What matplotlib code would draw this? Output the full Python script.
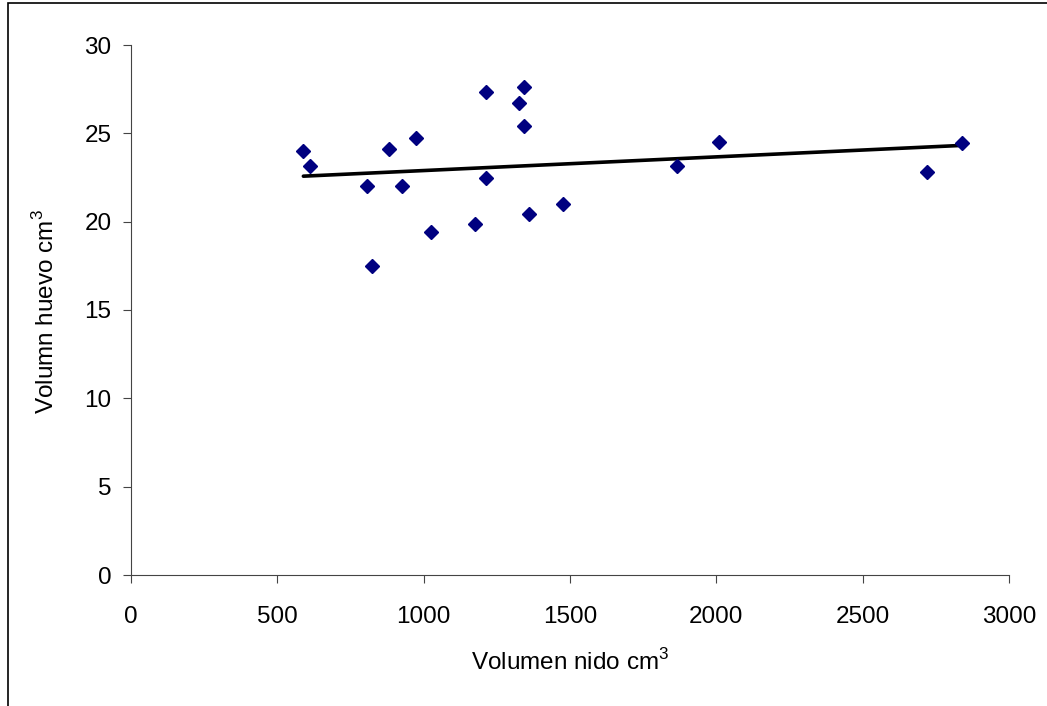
import matplotlib
matplotlib.use("Agg")
import matplotlib.pyplot as plt
import numpy as np
from matplotlib.patches import Rectangle

plt.rcParams['font.family'] = ['Liberation Sans', 'DejaVu Sans']
plt.rcParams['mathtext.fontset'] = 'custom'
plt.rcParams['mathtext.rm'] = 'Liberation Sans'

nest_volume = [589, 611, 807, 822, 883, 925, 973, 1026, 1176, 1212, 1212,
               1327, 1342, 1342, 1361, 1476, 1867, 2010, 2720, 2838]
egg_volume = [23.98, 23.17, 22.04, 17.51, 24.10, 22.04, 24.75, 19.43, 19.89, 27.36,
              22.49, 26.70, 27.61, 25.43, 20.45, 21.02, 23.15, 24.53, 22.83, 24.43]

x_ticks = [0, 500, 1000, 1500, 2000, 2500, 3000]
y_ticks = [0, 5, 10, 15, 20, 25, 30]

FS = 17.5
fig = plt.figure(figsize=(10.47, 7.06), dpi=100)
ax = fig.add_axes([131/1047, 1-575/706, (1009-131)/1047, (575-45)/706])

x = np.array(nest_volume)
y = np.array(egg_volume)
slope, intercept = np.polyfit(x, y, 1)
xl = np.array([x.min(), x.max()])
ax.plot(xl, slope*xl + intercept, color='black', lw=2.6, zorder=2, solid_capstyle='round')
ax.plot(x, y, linestyle='none', marker='D', ms=7.5, color='#000080', zorder=3)

ax.set_xlim(0, 3000)
ax.set_ylim(0, 30)
ax.set_xticks(x_ticks)
ax.set_yticks(y_ticks)
ax.tick_params(labelsize=FS, direction='out', length=5.5, width=0.8, color='#444444')
ax.tick_params(axis='x', pad=17)
ax.tick_params(axis='y', pad=8.5)
for s in ['top', 'right']:
    ax.spines[s].set_visible(False)
for s in ['left', 'bottom']:
    ax.spines[s].set_color('#444444')
    ax.spines[s].set_linewidth(0.8)

fig.text(570/1047, 1-662/706, 'Volumen nido cm$^\\mathregular{3}$', fontsize=FS,
         ha='center', va='center')
fig.text(46/1047, 1-311/706, 'Volumn huevo cm$^\\mathregular{3}$', fontsize=FS,
         ha='center', va='center', rotation=90)

fig.patches.append(Rectangle((8/1047, -0.1), 1.2, 1-3/706+0.1, transform=fig.transFigure,
                             fill=False, edgecolor='black', lw=1.2))

fig.savefig('out.png', dpi=100)
